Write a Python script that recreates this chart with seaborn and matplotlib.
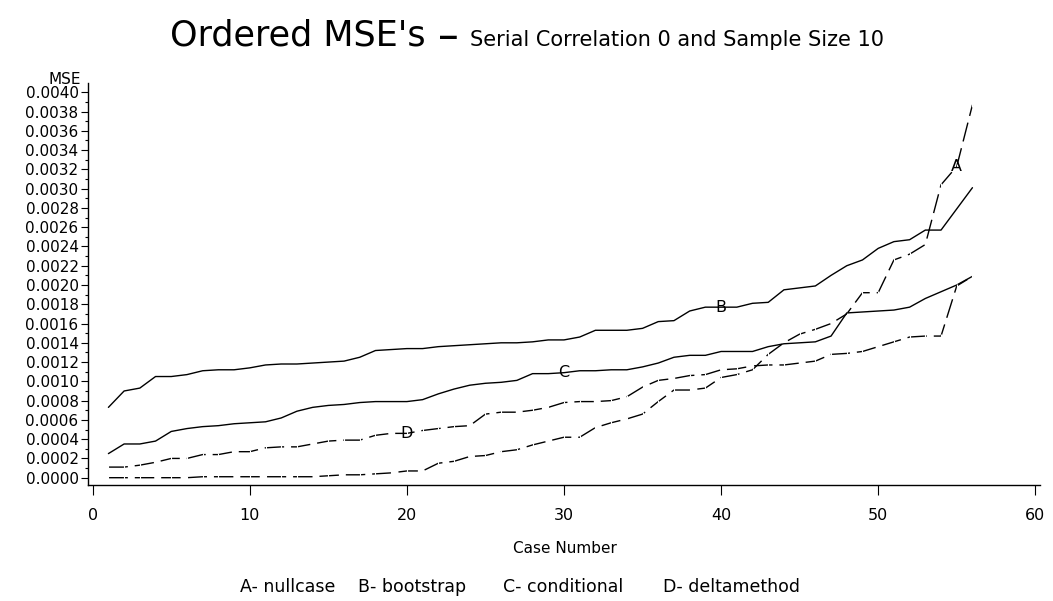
import matplotlib
matplotlib.use("Agg")
import matplotlib.pyplot as plt
from matplotlib.ticker import MultipleLocator, FuncFormatter
import seaborn as sns

# Case numbers 1..56 and the ordered MSE of each method
cases = list(range(1, 57))

nullcase = [
    0.00000, 0.00000, 0.00000, 0.00000, 0.00000, 0.00000, 0.00001, 0.00001, 0.00001, 0.00001,
    0.00001, 0.00001, 0.00001, 0.00001, 0.00002, 0.00003, 0.00003, 0.00004, 0.00005, 0.00007,
    0.00007, 0.00015, 0.00017, 0.00022, 0.00023, 0.00027, 0.00029, 0.00034, 0.00038, 0.00042,
    0.00042, 0.00052, 0.00057, 0.00061, 0.00066, 0.00079, 0.00091, 0.00091, 0.00093, 0.00104,
    0.00107, 0.00112, 0.00128, 0.00140, 0.00149, 0.00154, 0.00160, 0.00170, 0.00192, 0.00192,
    0.00226, 0.00232, 0.00242, 0.00304, 0.00323, 0.00387,
]

bootstrap = [
    0.00073, 0.00090, 0.00093, 0.00105, 0.00105, 0.00107, 0.00111, 0.00112, 0.00112, 0.00114,
    0.00117, 0.00118, 0.00118, 0.00119, 0.00120, 0.00121, 0.00125, 0.00132, 0.00133, 0.00134,
    0.00134, 0.00136, 0.00137, 0.00138, 0.00139, 0.00140, 0.00140, 0.00141, 0.00143, 0.00143,
    0.00146, 0.00153, 0.00153, 0.00153, 0.00155, 0.00162, 0.00163, 0.00173, 0.00177, 0.00177,
    0.00177, 0.00181, 0.00182, 0.00195, 0.00197, 0.00199, 0.00210, 0.00220, 0.00226, 0.00238,
    0.00245, 0.00247, 0.00257, 0.00257, 0.00279, 0.00301,
]

conditional = [
    0.00025, 0.00035, 0.00035, 0.00038, 0.00048, 0.00051, 0.00053, 0.00054, 0.00056, 0.00057,
    0.00058, 0.00062, 0.00069, 0.00073, 0.00075, 0.00076, 0.00078, 0.00079, 0.00079, 0.00079,
    0.00081, 0.00087, 0.00092, 0.00096, 0.00098, 0.00099, 0.00101, 0.00108, 0.00108, 0.00109,
    0.00111, 0.00111, 0.00112, 0.00112, 0.00115, 0.00119, 0.00125, 0.00127, 0.00127, 0.00131,
    0.00131, 0.00131, 0.00136, 0.00139, 0.00140, 0.00141, 0.00147, 0.00171, 0.00172, 0.00173,
    0.00174, 0.00177, 0.00186, 0.00193, 0.00200, 0.00209,
]

deltamethod = [
    0.00011, 0.00011, 0.00013, 0.00016, 0.00020, 0.00020, 0.00024, 0.00024, 0.00027, 0.00027,
    0.00031, 0.00032, 0.00032, 0.00035, 0.00038, 0.00039, 0.00039, 0.00044, 0.00046, 0.00046,
    0.00049, 0.00051, 0.00053, 0.00054, 0.00066, 0.00068, 0.00068, 0.00070, 0.00073, 0.00078,
    0.00079, 0.00079, 0.00080, 0.00084, 0.00094, 0.00101, 0.00103, 0.00106, 0.00107, 0.00112,
    0.00113, 0.00116, 0.00117, 0.00117, 0.00119, 0.00121, 0.00128, 0.00129, 0.00131, 0.00136,
    0.00141, 0.00146, 0.00147, 0.00147, 0.00199, 0.00209,
]

series_letters = ["A", "B", "C", "D"]
series_names = ["nullcase", "bootstrap", "conditional", "deltamethod"]
label_cases = [55, 40, 30, 20]  # case at which each curve carries its letter
x_ticks = [0, 10, 20, 30, 40, 50, 60]

sns.set_style("ticks")
plt.rcParams["font.family"] = ["DejaVu Sans"]
plt.rcParams["text.color"] = "black"
plt.rcParams["axes.labelcolor"] = "black"
plt.rcParams["xtick.color"] = "black"
plt.rcParams["ytick.color"] = "black"

W, H = 1053, 601
fig = plt.figure(figsize=(W / 100, H / 100), dpi=100)
ax = fig.add_axes([88.3 / W, 1 - 485 / H, (1040 - 88.3) / W, (485 - 83.3) / H])

values = [nullcase, bootstrap, conditional, deltamethod]
dashed = [True, False, False, True]

for letter, vals, is_dashed, at in zip(series_letters, values, dashed, label_cases):
    if is_dashed:
        sns.lineplot(x=cases, y=vals, ax=ax, color="black", linewidth=1.0,
                     linestyle=(0, (14, 5)), marker="|", markersize=3,
                     markeredgewidth=0.8, errorbar=None)
    else:
        sns.lineplot(x=cases, y=vals, ax=ax, color="black", linewidth=1.0,
                     errorbar=None)
    ax.text(at, vals[at - 1], letter, ha="center", va="center",
            fontsize=11.5, color="black")

ax.set_xlim(-0.28, 60.3)
ax.set_ylim(-0.0000758, 0.0040934)
ax.set_xticks(x_ticks)
ax.set_xticklabels([str(t) for t in x_ticks])
ax.yaxis.set_major_locator(MultipleLocator(0.0002))
ax.yaxis.set_minor_locator(MultipleLocator(0.0001))
ax.yaxis.set_major_formatter(FuncFormatter(lambda v, p: f"{abs(v):.4f}"))
ax.set_xlabel("")
ax.set_ylabel("")

for side in ["top", "right"]:
    ax.spines[side].set_visible(False)
for side in ["left", "bottom"]:
    ax.spines[side].set_linewidth(1.0)
    ax.spines[side].set_color("black")

ax.tick_params(axis="y", which="major", length=5, width=0.8, pad=2,
               labelsize=11, direction="out", colors="black")
ax.tick_params(axis="y", which="minor", length=2.5, width=0.8, direction="out",
               colors="black")
ax.tick_params(axis="x", which="major", length=7, width=0.8, pad=9.5,
               labelsize=11.5, direction="out", colors="black")


def fx(px):
    return px / W


def fy(py):
    return 1 - py / H


# Title line
fig.text(fx(170), fy(46), "Ordered MSE's", fontsize=25.2, ha="left", va="baseline")
fig.text(fx(438), fy(49), "\u2013", fontsize=30, ha="left", va="baseline")
fig.text(fx(470), fy(46), "Serial Correlation 0 and Sample Size 10",
         fontsize=15, ha="left", va="baseline")

# Axis labels
fig.text(fx(81), fy(84), "MSE", fontsize=11, ha="right", va="baseline")
fig.text(fx(565), fy(553), "Case Number", fontsize=11, ha="center", va="baseline")

# Legend line along the bottom
legend_x = [240, 358, 503, 663]
for letter, name, lx in zip(series_letters, series_names, legend_x):
    fig.text(fx(lx), fy(592), f"{letter}- {name}", fontsize=12.5,
             ha="left", va="baseline")

fig.savefig("out.png", dpi=100)
